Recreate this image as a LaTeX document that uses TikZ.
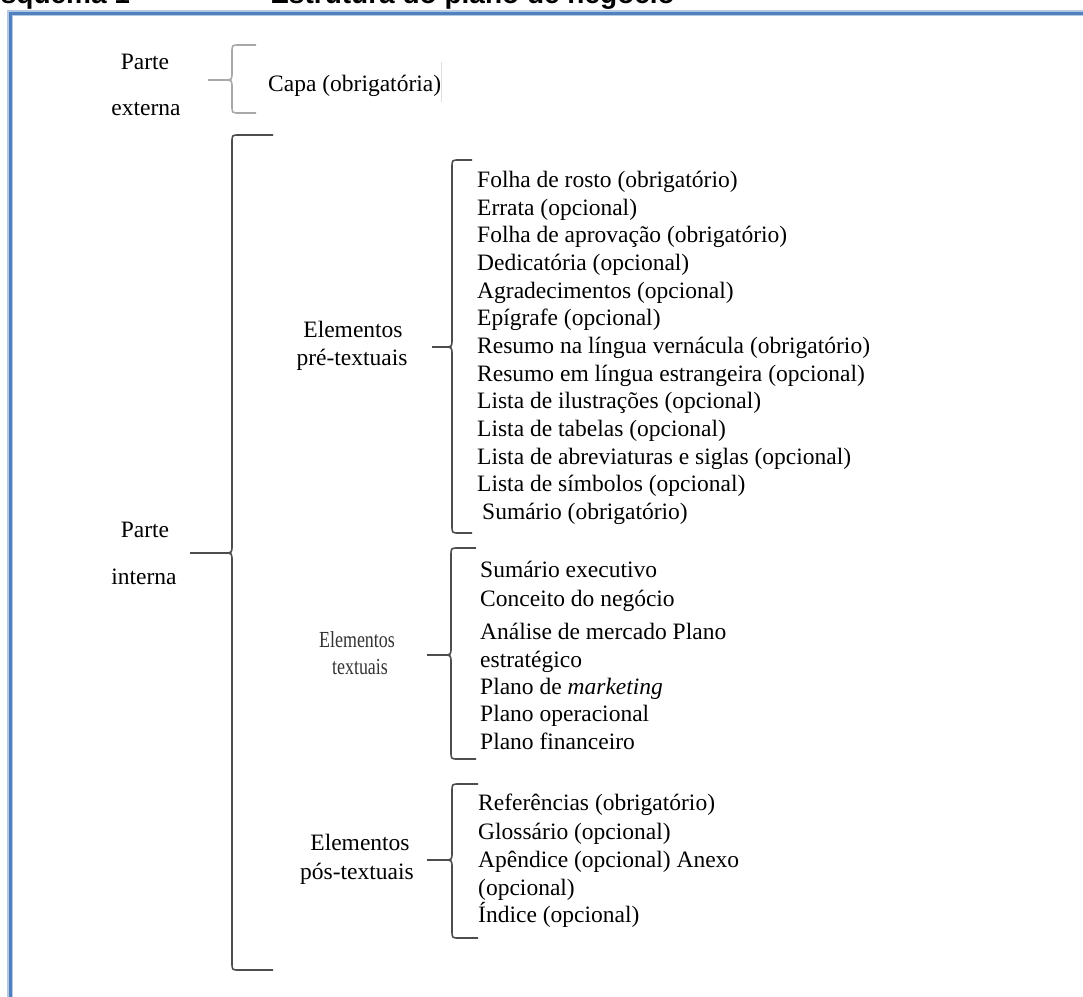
\documentclass[tikz,border=0pt]{standalone}
\usepackage{fontspec}
\usepackage{xcolor}
\usepackage{tikz}
\setmainfont{Liberation Serif}
\setsansfont{Liberation Sans}
\newfontfamily\estreita[FakeStretch=0.78]{Liberation Serif}

\definecolor{azulmoldura}{HTML}{4F81BD}
\definecolor{azulclaro}{HTML}{B4C8E4}
\definecolor{cinzachave}{HTML}{4D4D4D}
\definecolor{cinzaclaro}{HTML}{A8A8A8}

% chave: x da haste, topo, meio, base, ponta esquerda, pontas direitas
\newcommand{\chave}[7][cinzachave]{%
    \draw[#1, line width=1.6] (#7, #3) -- (#2+7, #3) .. controls (#2, #3) .. (#2, #3+8)
        -- (#2, #4-8) .. controls (#2, #4) .. (#2-8, #4) -- (#6, #4);
    \draw[#1, line width=1.6] (#6, #4) -- (#2-8, #4) .. controls (#2, #4) .. (#2, #4+8)
        -- (#2, #5-8) .. controls (#2, #5) .. (#2+7, #5) -- (#7, #5);
}

\begin{document}
\begin{tikzpicture}[x=1pt, y=-1pt,
        item/.style={anchor=base west, inner sep=0pt, font=\fontsize{23.5}{27}\selectfont},
        rotulo/.style={anchor=base, inner sep=0pt, font=\fontsize{23.5}{27}\selectfont},
        titulo/.style={inner sep=0pt, font=\sffamily\bfseries\fontsize{28}{32}\selectfont}]
        \useasboundingbox (0, 0) rectangle (1083, 996);
        \clip (0, 0) rectangle (1083, 996);

        \node[titulo, anchor=base west] (titulo) at (-18, 3) {Esquema 1};
        \node[titulo, anchor=base east] (subtitulo) at (675, 3) {– Estrutura do plano de negócio};

        \draw[azulclaro, line width=6] (10, 1010) |- (1100, 13);
        \draw[azulmoldura, line width=3] (10, 1010) |- (1100, 13);

        \node[rotulo] (externa1) at (145, 69.5) {Parte};
        \node[rotulo] (externa2) at (146, 115.5) {externa};
        \chave[cinzaclaro]{232}{45}{80}{113}{208}{256}
        \node[item] (capa) at (268, 91.5) {Capa (obrigatória)};
        \draw[gray!25, line width=1] (441, 62) -- (441, 102);

        \node[rotulo] (interna1) at (145, 537.5) {Parte};
        \node[rotulo] (interna2) at (144, 584.5) {interna};
        \chave{232}{135}{553}{970}{190}{273}

        \node[rotulo] (pre1) at (353, 337.5) {Elementos};
        \node[rotulo] (pre2) at (352, 365.5) {pré-textuais};
        \chave{452}{160}{347}{533}{432}{472}
        \foreach \texto [count=\i from 0] in {Folha de rosto (obrigatório), Errata (opcional),
            Folha de aprovação (obrigatório), Dedicatória (opcional), Agradecimentos (opcional),
            Epígrafe (opcional), Resumo na língua vernácula (obrigatório),
            Resumo em língua estrangeira (opcional), Lista de ilustrações (opcional),
            Lista de tabelas (opcional), Lista de abreviaturas e siglas (opcional),
            Lista de símbolos (opcional)}
            \node[item] (preitem\i) at (477, 187.5+27.67*\i) {\texto};
        \node[item] (preitem12) at (482, 519.5) {Sumário (obrigatório)};

        \node[rotulo, font=\estreita\fontsize{23}{27}\selectfont, text=black!80] (txt1) at (357, 647) {Elementos};
        \node[rotulo, font=\estreita\fontsize{23}{27}\selectfont, text=black!80] (txt2) at (360, 674) {textuais};
        \chave{451}{548}{655}{759}{427}{476}
        \foreach \yy/\texto [count=\i] in {570/Sumário executivo, 599/Conceito do negócio,
            632/Análise de mercado Plano, 660/estratégico, 687/{Plano de \textit{marketing}},
            714/Plano operacional, 742/Plano financeiro}
            \node[item] (txtitem\i) at (480, \yy+7.5) {\texto};

        \node[rotulo] (pos1) at (360, 850.5) {Elementos};
        \node[rotulo] (pos2) at (357, 879.5) {pós-textuais};
        \chave{452}{784}{860}{938}{427}{478}
        \foreach \yy/\texto [count=\i] in {803/Referências (obrigatório), 832/Glossário (opcional),
            860/Apêndice (opcional) Anexo, 888/(opcional), 915/Índice (opcional)}
            \node[item] (positem\i) at (478, \yy+7.5) {\texto};

    \end{tikzpicture}
\end{document}
